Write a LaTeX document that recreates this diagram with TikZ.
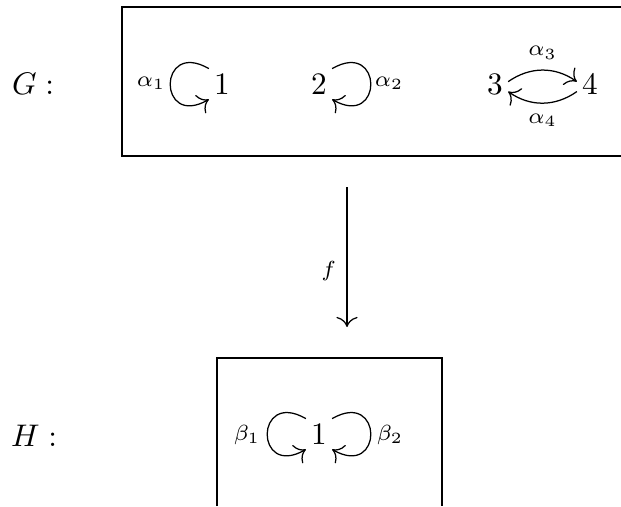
\documentclass[tikz,border=0pt]{standalone}
\usepackage{amsmath,amssymb}
\usepackage{tikz}
\usetikzlibrary{arrows.meta}

\begin{document}
\begin{tikzpicture}[x=0.32pt,y=0.32pt,
  vtx/.style={inner sep=1.5pt},
  lbl/.style={font=\scriptsize},
  arr/.style={-{To[scale=1.3]}},
  loopd/.style={distance=19pt}]
\useasboundingbox (0,0) rectangle (621,506);

% --- Quiver G ---
\node (Glbl) at (33,422) {$G:$};
\draw (621,499) -- (122,499) -- (122,350) -- (621,350);

\node[vtx] (g1) at (222,422) {$1$};
\node[vtx] (g2) at (319,422) {$2$};
\node[vtx] (g3) at (495,422) {$3$};
\node[vtx] (g4) at (590,422) {$4$};

\node[lbl] (a1) at (151,423) {$\alpha_1$};
\node[lbl] (a2) at (389,423) {$\alpha_2$};

% loops and the pair of arrows
\draw[arr] (g1.north west) to[out=150,in=210,loopd] (g1.south west);
\draw[arr] (g2.north east) to[out=30,in=-30,loopd] (g2.south east);
\draw[arr] (g3.10) to[bend left=35] node[lbl,above] (a3) {$\alpha_3$} (g4.170);
\draw[arr] (g4.-150) to[bend left=35] node[lbl,below] (a4) {$\alpha_4$} (g3.-30);

% --- Map f ---
\coordinate (fsrc) at (347,319);
\coordinate (ftgt) at (347,179);
\draw[arr] (fsrc) -- node[lbl,left,pos=0.6] (flbl) {$f$} (ftgt);

% --- Quiver H ---
\node (Hlbl) at (34,70) {$H:$};
\draw (217,0) -- (217,148) -- (442,148) -- (442,0);

\node[vtx] (h1) at (319,72) {$1$};
\node[lbl] (b1) at (247,71) {$\beta_1$};
\node[lbl] (b2) at (390,71) {$\beta_2$};

\draw[arr] (h1.north west) to[out=150,in=210,loopd] (h1.south west);
\draw[arr] (h1.north east) to[out=30,in=-30,loopd] (h1.south east);
\end{tikzpicture}
\end{document}
